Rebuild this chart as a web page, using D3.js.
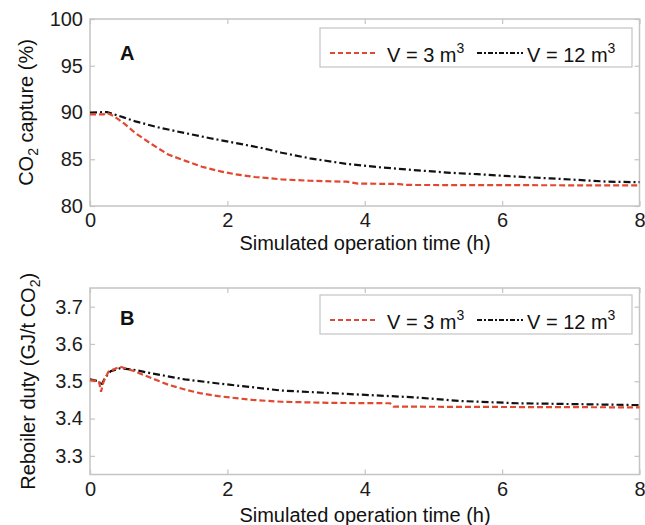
<!DOCTYPE html>
<html>
<head>
<meta charset="utf-8">
<script src="https://cdn.jsdelivr.net/npm/d3@7"></script>
<style>
  body { margin: 0; background: #fff; }
  svg { display: block; font-family: "Liberation Sans", Arial, sans-serif; }
</style>
</head>
<body>
<svg id="chart" width="645" height="525"></svg>
<script>
// time (h), value pairs
const capture3 = [[0, 89.8], [0.2, 89.8], [0.25, 89.95], [0.35, 89.6], [0.5, 88.8], [0.66, 87.8], [0.9, 86.6],
  [1.14, 85.5], [1.4, 84.8], [1.63, 84.2], [1.9, 83.7], [2.11, 83.4], [2.4, 83.1], [2.79, 82.85], [3.2, 82.7],
  [3.74, 82.6], [3.9, 82.4], [4.5, 82.35], [4.6, 82.25], [8, 82.2]];
const capture12 = [[0, 90], [0.25, 90.05], [0.5, 89.45], [0.66, 89.05], [1.0, 88.4], [1.38, 87.8], [1.75, 87.25],
  [2.11, 86.75], [2.5, 86.2], [2.79, 85.7], [3.2, 85.1], [3.74, 84.5], [4.2, 84.15], [4.71, 83.85], [5.25, 83.55],
  [5.64, 83.4], [6.2, 83.15], [6.71, 82.95], [7.2, 82.75], [7.53, 82.6], [8, 82.55]];
const duty3 = [[0, 3.503], [0.13, 3.5], [0.16, 3.472], [0.2, 3.5], [0.27, 3.526], [0.44, 3.539], [0.66, 3.526],
  [0.9, 3.508], [1.15, 3.49], [1.38, 3.478], [1.6, 3.468], [1.87, 3.46], [2.36, 3.45], [2.79, 3.445], [3.5, 3.442],
  [4.37, 3.441], [4.42, 3.432], [6, 3.431], [8, 3.43]];
const duty12 = [[0, 3.505], [0.13, 3.5], [0.16, 3.488], [0.22, 3.51], [0.3, 3.527], [0.44, 3.535], [0.66, 3.53],
  [0.9, 3.521], [1.38, 3.505], [1.87, 3.494], [2.36, 3.484], [2.79, 3.475], [3.74, 3.466], [4.71, 3.457],
  [5.4, 3.447], [6.22, 3.441], [6.95, 3.439], [8, 3.436]];

const xTicks = [0, 2, 4, 6, 8];
const captureTicks = [80, 85, 90, 95, 100];
const dutyTicks = [3.3, 3.4, 3.5, 3.6, 3.7];

const red = "#e2472f";
const boxColor = "#c4c4c4";
const redDash = "6,3";
const blackDash = "7,3,2,3";
const fontSize = "20px";

const svg = d3.select("#chart");
svg.append("rect").attr("width", 645).attr("height", 525).attr("fill", "#fff");

const x = d3.scaleLinear().domain([0, 8]).range([90, 639.5]);

function panel(opts) {
  const y = d3.scaleLinear().domain(opts.domain).range([opts.bottom, opts.top]);
  const g = svg.append("g");

  g.append("g").attr("transform", `translate(0,${opts.bottom})`)
    .call(d3.axisBottom(x).tickValues(xTicks).tickSizeInner(-5).tickSizeOuter(0).tickPadding(7.2).tickFormat(d3.format("d")));
  g.append("g").attr("transform", `translate(0,${opts.top})`)
    .call(d3.axisTop(x).tickValues(xTicks).tickSizeInner(-5).tickSizeOuter(0).tickFormat(""));
  g.append("g").attr("transform", "translate(90,0)")
    .call(d3.axisLeft(y).tickValues(opts.ticks).tickSizeInner(-5).tickSizeOuter(0).tickPadding(7).tickFormat(opts.fmt));
  g.append("g").attr("transform", "translate(639.5,0)")
    .call(d3.axisRight(y).tickValues(opts.ticks).tickSizeInner(-5).tickSizeOuter(0).tickFormat(""));

  g.selectAll(".domain").remove();
  g.selectAll(".tick line").attr("stroke", boxColor).attr("stroke-width", 1.2);
  g.selectAll(".tick text").attr("fill", "#1c1c1c").style("font-size", fontSize);

  g.append("rect")
    .attr("x", 90).attr("y", opts.top)
    .attr("width", 549.5).attr("height", opts.bottom - opts.top)
    .attr("fill", "none").attr("stroke", boxColor).attr("stroke-width", 1.5);

  const line = d3.line().x(d => x(d[0])).y(d => y(d[1]));
  g.append("path").datum(opts.s12).attr("d", line)
    .attr("fill", "none").attr("stroke", "#111").attr("stroke-width", 2.2).attr("stroke-dasharray", blackDash);
  g.append("path").datum(opts.s3).attr("d", line)
    .attr("fill", "none").attr("stroke", red).attr("stroke-width", 2.2).attr("stroke-dasharray", redDash);

  // panel letter
  g.append("text").attr("x", 120).attr("y", opts.letterY)
    .style("font-size", fontSize).style("font-weight", "bold").attr("fill", "#111").text(opts.letter);

  // legend
  const lt = opts.legendTop;
  g.append("rect").attr("x", 320).attr("y", lt).attr("width", 312).attr("height", 39)
    .attr("fill", "#fff").attr("stroke", boxColor).attr("stroke-width", 1.2);
  g.append("line").attr("x1", 330).attr("x2", 378).attr("y1", lt + 25).attr("y2", lt + 25)
    .attr("stroke", red).attr("stroke-width", 2).attr("stroke-dasharray", "5,3");
  g.append("line").attr("x1", 477).attr("x2", 523).attr("y1", lt + 25).attr("y2", lt + 25)
    .attr("stroke", "#111").attr("stroke-width", 2).attr("stroke-dasharray", "5,2,2,2");
  [["V = 3 m", 387], ["V = 12 m", 527]].forEach(([label, tx]) => {
    const t = g.append("text").attr("x", tx).attr("y", lt + 34).style("font-size", fontSize).attr("fill", "#111");
    t.append("tspan").text(label);
    t.append("tspan").attr("dy", -9).style("font-size", "14px").text("3");
  });

  // axis titles
  g.append("text").attr("x", 365).attr("y", opts.xTitleY).attr("text-anchor", "middle")
    .style("font-size", fontSize).attr("fill", "#111").text("Simulated operation time (h)");
  const yt = g.append("text")
    .attr("transform", `translate(${opts.yTitleX},${(opts.top + opts.bottom) / 2}) rotate(-90)`)
    .attr("text-anchor", "middle").style("font-size", fontSize).attr("fill", "#111");
  yt.append("tspan").text(opts.yTitle[0]);
  yt.append("tspan").attr("dy", 5).style("font-size", "14px").text("2");
  yt.append("tspan").attr("dy", -5).text(opts.yTitle[1]);
}

panel({
  top: 19, bottom: 206, domain: [80, 100], ticks: captureTicks, fmt: d3.format("d"),
  s3: capture3, s12: capture12, letter: "A", letterY: 60, legendTop: 28,
  xTitleY: 249.5, yTitleX: 33, yTitle: ["CO", " capture (%)"]
});
panel({
  top: 288, bottom: 474.5, domain: [3.25, 3.75], ticks: dutyTicks, fmt: d3.format(".1f"),
  s3: duty3, s12: duty12, letter: "B", letterY: 325, legendTop: 295,
  xTitleY: 522, yTitleX: 35, yTitle: ["Reboiler duty (GJ/t CO", ")"]
});
</script>
</body>
</html>
